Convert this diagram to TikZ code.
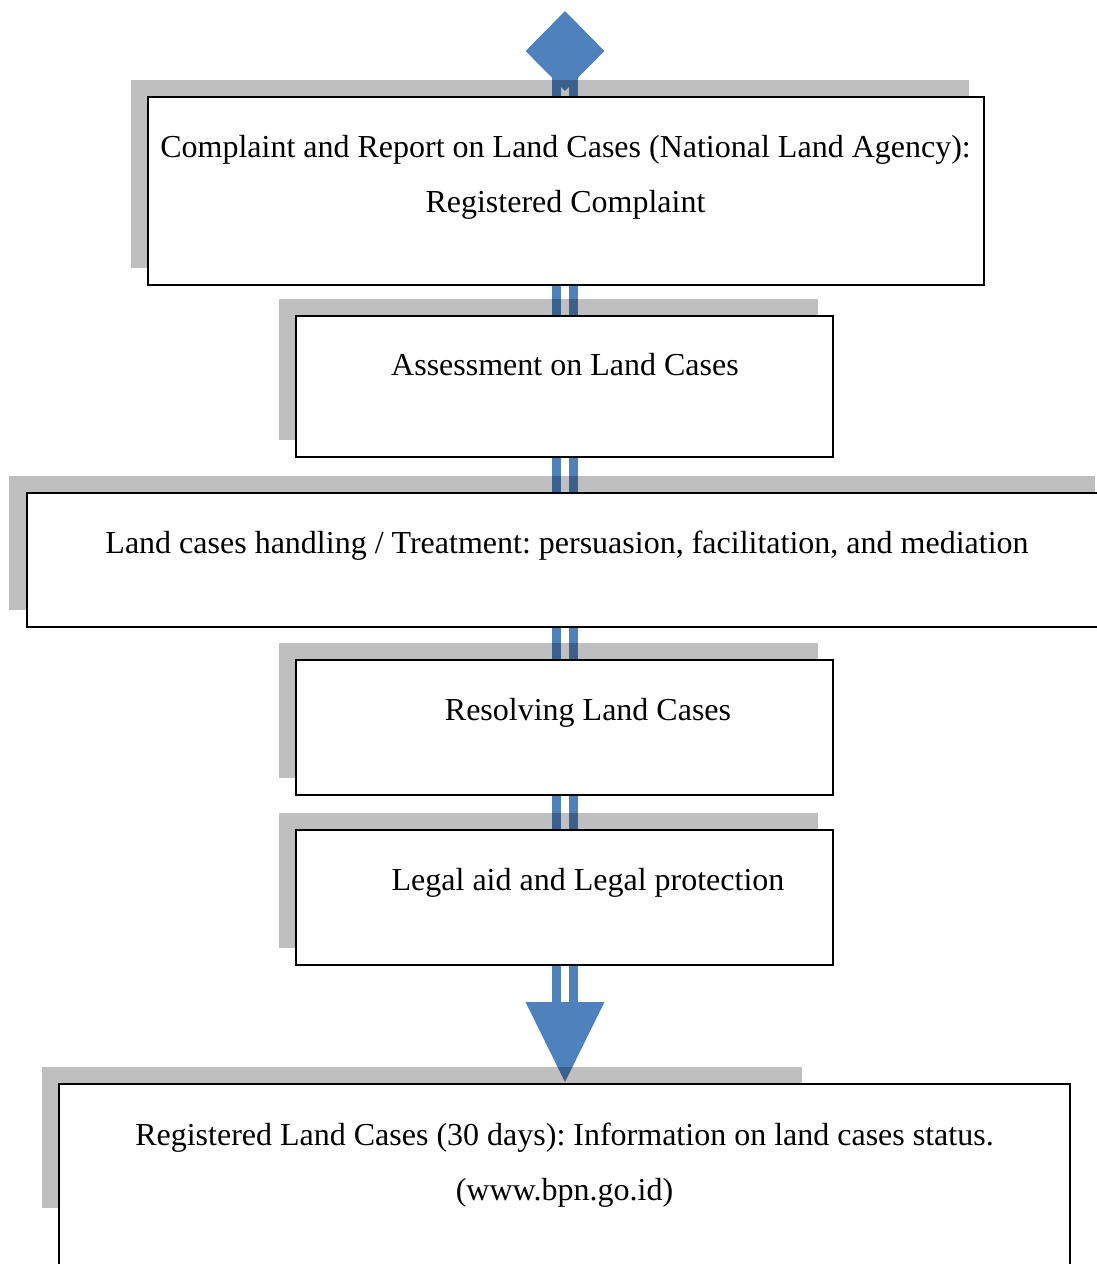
\documentclass[tikz,border=0pt]{standalone}
\usepackage{fontspec}
\setmainfont{Liberation Serif}
\usepackage{tikz}
\usetikzlibrary{shapes.geometric, shadows, positioning}
\definecolor{flowblue}{RGB}{79,129,189}
\pgfdeclarelayer{background}
\pgfsetlayers{background,main}
\frenchspacing
\tikzset{
  stepbox/.style={rectangle, draw=black, fill=white, line width=1.6pt, inner sep=0pt},
  shadowed/.style={drop shadow={shadow xshift=-16pt, shadow yshift=17pt,
    shadow scale=1.003, fill=black, opacity=0.25}},
  shadefill/.style={fill=black, opacity=0.25},
  rail/.style={draw=flowblue, line width=8.5pt},
  txt/.style={font=\fontsize{32}{55}\selectfont, inner sep=0pt, anchor=base, align=center}
}

\begin{document}
\begin{tikzpicture}[x=1pt, y=-1pt]
  \clip (0,0) rectangle (1097,1264);

  % Boxes
  \node[stepbox, shadowed, minimum width=836pt, minimum height=188pt] (b1) at (566,191) {};
  \node[stepbox, shadowed, minimum width=537pt, minimum height=141pt] (b2) at (564.5,386.5) {};
  \node[stepbox, shadowed, minimum width=1082pt, minimum height=134pt] (b3) at (568,560) {};
  \node[stepbox, shadowed, minimum width=537pt, minimum height=135pt] (b4) at (564.5,727.5) {};
  \node[stepbox, shadowed, minimum width=537pt, minimum height=135pt] (b5) at (564.5,897.5) {};
  \fill[shadefill] (42,1067) rectangle (802,1208);
  \node[stepbox, minimum width=1011pt, minimum height=216pt] (b6) at (564.5,1192) {};

  % Texts (base = last line)
  \node[txt] (t1) at (565.5,212) {Complaint and Report on Land Cases (National Land Agency):\\Registered Complaint};
  \node[txt] (t2) at (565,375) {Assessment on Land Cases};
  \node[txt] (t3) at (567,553) {Land cases handling / Treatment: persuasion, facilitation, and mediation};
  \node[txt] (t4) at (588,720) {Resolving Land Cases};
  \node[txt] (t5) at (588,890) {Legal aid and Legal protection};
  \node[txt] (t6) at (564.5,1200) {Registered Land Cases (30 days): Information on land cases status.\\(www.bpn.go.id)};

  % Flow line
  \begin{pgfonlayer}{background}
    \node[diamond, fill=flowblue, inner sep=0pt, minimum width=79pt, minimum height=80pt] (start) at (565,51) {};
    \coordinate (headtop) at (565,1002);
    \foreach \a/\b in {start/b1, b1/b2, b2/b3, b3/b4, b4/b5, b5/headtop}
      \foreach \dx in {-8.5, 8.5}
        \draw[rail] ([xshift=\dx pt]start.center |- \a.center) -- ([xshift=\dx pt]start.center |- \b.center);
    \fill[flowblue] ([xshift=-39.5pt]headtop) -- ([xshift=39.5pt]headtop) -- ([yshift=-80pt]headtop) -- cycle;
  \end{pgfonlayer}
\end{tikzpicture}
\end{document}
